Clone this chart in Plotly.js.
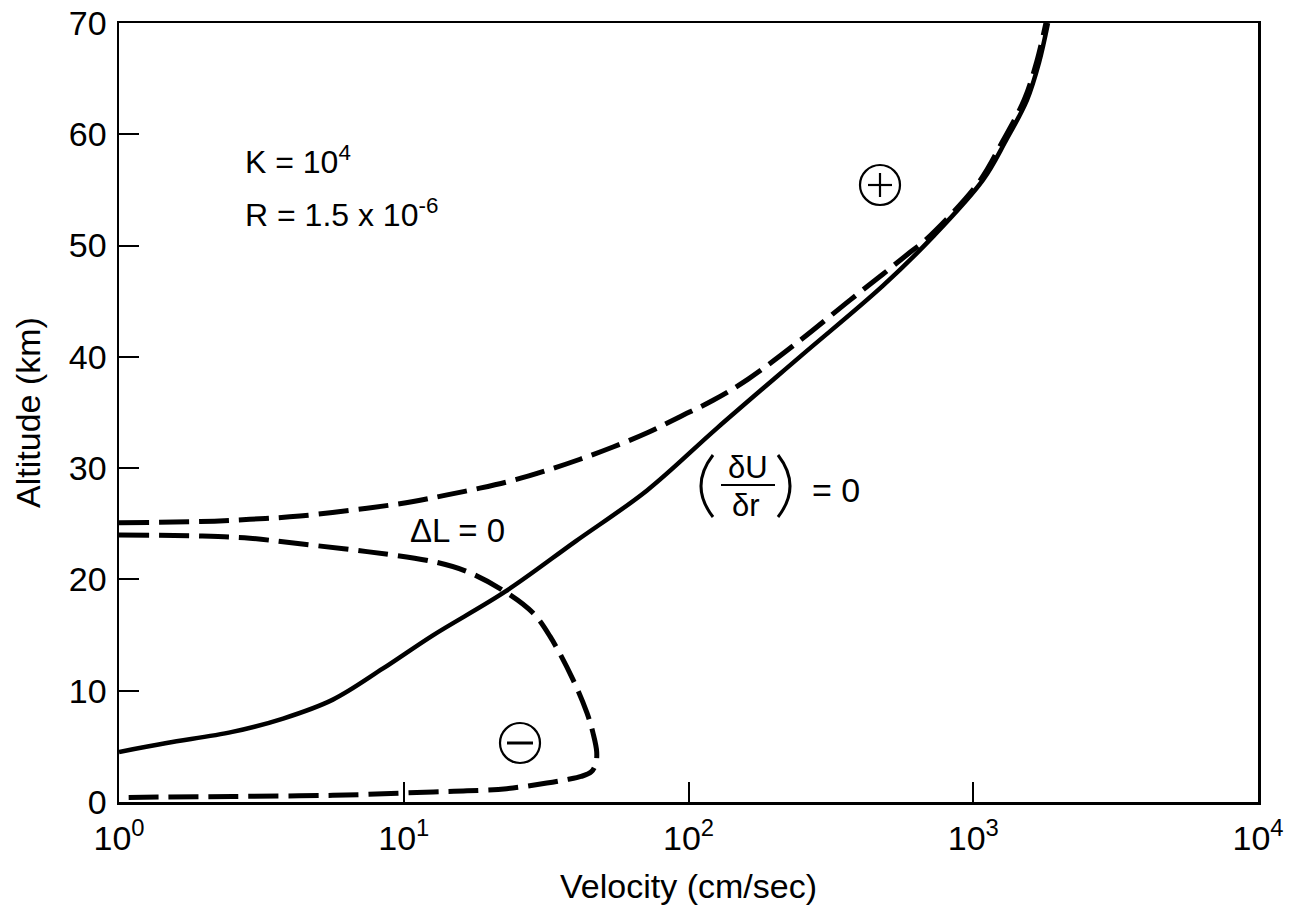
<!DOCTYPE html>
<html>
<head>
<meta charset="utf-8">
<script src="https://cdn.plot.ly/plotly-3.0.1.min.js"></script>
<style>html,body{margin:0;padding:0;background:#fff;}#chart{width:1290px;height:910px;}</style>
</head>
<body>
<div id="chart"></div>
<script>
// ---- data ----
const velSolid = [1, 1.47, 2.5, 3.77, 5.64, 8.46, 12.7, 22.7, 40, 71.5, 126, 246, 482, 722, 1082, 1300, 1545, 1700, 1830];
const altSolid = [4.5, 5.3, 6.3, 7.5, 9.2, 12.0, 15.0, 18.9, 23.4, 28.0, 33.6, 40.0, 46.4, 50.8, 55.9, 59.4, 63.1, 66.4, 70];

const velDashUpper = [1, 1.93, 2.88, 4.32, 7.43, 10.8, 14.2, 18.5, 24.2, 31.8, 41.6, 54.3, 72, 93, 122, 162, 250, 369, 480, 600, 680, 1040, 1270, 1510, 1670, 1800];
const altDashUpper = [25.1, 25.2, 25.4, 25.7, 26.4, 27.0, 27.6, 28.2, 28.9, 29.8, 30.8, 31.9, 33.2, 34.6, 36.1, 38.0, 41.6, 45.1, 47.4, 49.4, 50.5, 55.6, 59.4, 63.1, 66.5, 70];

const velDashLower = [1, 1.93, 2.88, 4.32, 7.43, 12.7, 16.7, 22.7, 28.4, 32.6, 39.3, 44, 46.2, 47.6, 47.2, 45.5, 42, 37, 31.8, 23, 16.7, 12.7, 5.64, 2.51, 1.47, 1];
const altDashLower = [24.0, 23.9, 23.7, 23.2, 22.5, 21.6, 20.7, 18.9, 17.0, 14.9, 11.0, 8.0, 6.2, 4.5, 3.4, 2.7, 2.3, 2.0, 1.7, 1.2, 1.0, 0.9, 0.6, 0.5, 0.45, 0.4];

const xTickVals = [1, 10, 100, 1000, 10000];
const xTickText = ['10<sup>0</sup>', '10<sup>1</sup>', '10<sup>2</sup>', '10<sup>3</sup>', '10<sup>4</sup>'];
const yTickVals = [0, 10, 20, 30, 40, 50, 60, 70];
const yTickText = ['0', '10', '20', '30', '40', '50', '60', '70'];

// ---- layout helpers ----
const L = 119, R = 1258, T = 23, B = 802;
const fx = px => (px - L) / (R - L);
const fy = py => (B - py) / (B - T);
const FONT = 'Liberation Sans, Arial, Helvetica, sans-serif';

const traces = [
  {x: velSolid, y: altSolid, mode: 'lines', type: 'scatter',
   line: {color: '#000', width: 4.5, shape: 'spline', smoothing: 1.0}, hoverinfo: 'skip', name: 'dU/dr=0'},
  {x: velDashUpper, y: altDashUpper, mode: 'lines', type: 'scatter',
   line: {color: '#000', width: 5, dash: '30px,10px', shape: 'spline', smoothing: 1.0}, hoverinfo: 'skip', name: 'ΔL=0 upper'},
  {x: velDashLower, y: altDashLower, mode: 'lines', type: 'scatter',
   line: {color: '#000', width: 5, dash: '30px,10px', shape: 'spline', smoothing: 1.0}, hoverinfo: 'skip', name: 'ΔL=0 lower'}
];

function ann(px, py, text, size, xanchor) {
  return {xref: 'paper', yref: 'paper', x: fx(px), y: fy(py), text: text, showarrow: false,
          xanchor: xanchor || 'center', yanchor: 'middle',
          font: {family: FONT, size: size, color: '#000'}};
}
function pline(x0, y0, x1, y1, w) {
  return {type: 'line', xref: 'paper', yref: 'paper', x0: fx(x0), y0: fy(y0), x1: fx(x1), y1: fy(y1),
          line: {color: '#000', width: w}};
}
function pcircle(cx, cy, r) {
  return {type: 'circle', xref: 'paper', yref: 'paper', x0: fx(cx - r), x1: fx(cx + r), y0: fy(cy + r), y1: fy(cy - r),
          line: {color: '#000', width: 2.2}};
}
function pparen(xTop, xMid, yTop, yBot) {
  const cx = 2 * xMid - xTop;
  const ym = (yTop + yBot) / 2;
  return {type: 'path', xref: 'paper', yref: 'paper',
          path: 'M ' + fx(xTop) + ',' + fy(yTop) + ' Q ' + fx(cx) + ',' + fy(ym) + ' ' + fx(xTop) + ',' + fy(yBot),
          line: {color: '#000', width: 3}};
}

const layout = {
  width: 1290, height: 910,
  margin: {l: L, r: 1290 - R, t: T, b: 910 - B},
  paper_bgcolor: '#fff', plot_bgcolor: '#fff',
  showlegend: false,
  font: {family: FONT, color: '#000'},
  xaxis: {
    type: 'log', range: [0, 4],
    tickvals: xTickVals, ticktext: xTickText,
    ticks: 'inside', ticklen: 20, tickwidth: 2, tickcolor: '#000',
    showline: true, linewidth: 2.5, linecolor: '#000', mirror: true,
    showgrid: false, zeroline: false, ticklabelstandoff: 5,
    tickfont: {family: FONT, size: 34, color: '#000'},
    title: {text: 'Velocity (cm/sec)', font: {family: FONT, size: 34, color: '#000'}, standoff: 18}
  },
  yaxis: {
    range: [0, 70],
    tickvals: yTickVals, ticktext: yTickText,
    ticks: 'inside', ticklen: 20, tickwidth: 2, tickcolor: '#000',
    showline: true, linewidth: 2.5, linecolor: '#000', mirror: true,
    showgrid: false, zeroline: false, ticklabelstandoff: 3,
    tickfont: {family: FONT, size: 34, color: '#000'},
    title: {text: 'Altitude (km)', font: {family: FONT, size: 34, color: '#000'}, standoff: 18}
  },
  annotations: [
    ann(243, 160, 'K = 10<sup>4</sup>', 32, 'left'),
    ann(243, 213, 'R = 1.5 x 10<sup>-6</sup>', 32, 'left'),
    ann(408, 530, 'ΔL = 0', 33, 'left'),
    ann(748, 467, 'δU', 31, 'center'),
    ann(746, 505, 'δr', 31, 'center'),
    ann(810, 490, '= 0', 34, 'left')
  ],
  shapes: [
    pline(721, 485, 775, 485, 2),
    pparen(713, 701, 455, 517),
    pparen(778, 790, 455, 517),
    pcircle(880, 185, 20),
    pline(868, 185, 892, 185, 2.2),
    pline(880, 173, 880, 197, 2.2),
    pcircle(520, 743, 20),
    pline(507, 743, 533, 743, 3)
  ]
};

Plotly.newPlot('chart', traces, layout, {displayModeBar: false, staticPlot: true});
</script>
</body>
</html>
